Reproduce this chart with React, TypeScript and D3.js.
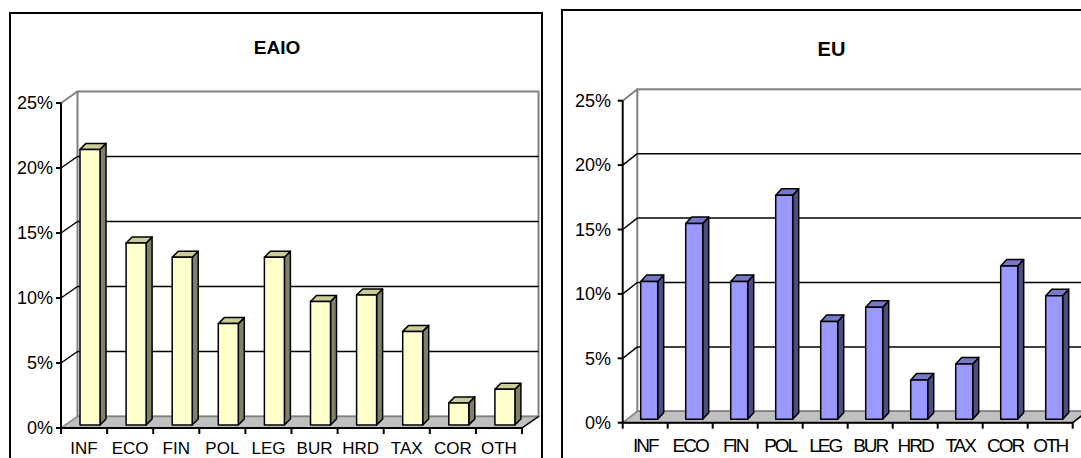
import React from 'react';
import * as d3 from 'd3';

const categories = ['INF', 'ECO', 'FIN', 'POL', 'LEG', 'BUR', 'HRD', 'TAX', 'COR', 'OTH'];
const eaioValues = [21.2, 14.0, 12.9, 7.8, 12.9, 9.5, 10.0, 7.2, 1.7, 2.75];
const euValues = [10.7, 15.2, 10.7, 17.4, 7.6, 8.7, 3.05, 4.3, 11.9, 9.6];
const yTicks = [0, 5, 10, 15, 20, 25];

const FONT = 'Arial, "Liberation Sans", sans-serif';

type Palette = { front: string; top: string; side: string };

type ChartProps = {
  title: string;
  values: number[];
  palette: Palette;
  frame: { x: number; y: number; w: number; h: number };
  titlePos: [number, number, number];
  x0: number;
  x1: number;
  y0: number;
  yTop: number;
  wallDx: number;
  wallDy: number;
  barStart: number;
  barWidth: number;
  barDx: number;
  barDy: number;
  baseDy: number;
  labelY: number;
  labelSize: number;
  labelSpacing: number;
  tickLabelX: number;
};

function Chart3D(p: ChartProps) {
  const x = d3.scaleBand<string>().domain(categories).range([p.x0, p.x1]).paddingInner(0).paddingOuter(0);
  const y = d3.scaleLinear().domain([0, 25]).range([p.y0, p.yTop]);
  const bw = x.bandwidth();
  const dx = p.wallDx, dy = p.wallDy;
  const fmt = (v: number) => v + '%';

  const floor = [
    [p.x0, p.y0], [p.x1, p.y0], [p.x1 + dx, p.y0 + dy], [p.x0 + dx, p.y0 + dy],
  ].map(d => d.join(',')).join(' ');

  return (
    <g>
      <rect x={p.frame.x} y={p.frame.y} width={p.frame.w} height={p.frame.h} fill="#fff" stroke="#000" strokeWidth={2} />
      <text x={p.titlePos[0]} y={p.titlePos[1]} textAnchor="middle" fontFamily={FONT} fontWeight="bold" fontSize={p.titlePos[2]}>{p.title}</text>

      {/* back wall */}
      <rect x={p.x0 + dx} y={p.yTop + dy} width={p.x1 - p.x0} height={p.y0 - p.yTop} fill="#fff" stroke="#808080" strokeWidth={2} />
      {yTicks.slice(1, -1).map(t => (
        <g key={t}>
          <line x1={p.x0 + dx} x2={p.x1 + dx} y1={y(t) + dy} y2={y(t) + dy} stroke="#000" strokeWidth={1.5} />
          <line x1={p.x0} x2={p.x0 + dx} y1={y(t)} y2={y(t) + dy} stroke="#000" strokeWidth={1.5} />
        </g>
      ))}
      <line x1={p.x0} x2={p.x0 + dx} y1={p.yTop} y2={p.yTop + dy} stroke="#808080" strokeWidth={2} />

      {/* floor */}
      <polygon points={floor} fill="#c0c0c0" stroke="#808080" strokeWidth={1.5} />
      <line x1={p.x1} x2={p.x1 + dx} y1={p.y0} y2={p.y0 + dy} stroke="#000" strokeWidth={1.5} />

      {/* axes */}
      <line x1={p.x0} x2={p.x0} y1={p.yTop} y2={p.y0} stroke="#000" strokeWidth={2} />
      <line x1={p.x0} x2={p.x1} y1={p.y0} y2={p.y0} stroke="#000" strokeWidth={2} />
      {yTicks.map(t => (
        <g key={t}>
          <line x1={p.x0 - 5} x2={p.x0} y1={y(t)} y2={y(t)} stroke="#000" strokeWidth={2} />
          <text x={p.tickLabelX} y={y(t)} dy="0.35em" textAnchor="end" fontFamily={FONT} fontSize={18}>{fmt(t)}</text>
        </g>
      ))}
      {categories.map(c => (
        <line key={c} x1={(x(c) as number) + bw} x2={(x(c) as number) + bw} y1={p.y0} y2={p.y0 + 6} stroke="#000" strokeWidth={2} />
      ))}
      <line x1={p.x0} x2={p.x0} y1={p.y0} y2={p.y0 + 6} stroke="#000" strokeWidth={2} />

      {/* bars */}
      {categories.map((c, i) => {
        const left = (x(c) as number) + p.barStart;
        const right = left + p.barWidth;
        const top = y(p.values[i]) + p.baseDy;
        const bottom = p.y0 + p.baseDy;
        const bx = p.barDx, by = p.barDy;
        const topFace = [[left, top], [right, top], [right + bx, top + by], [left + bx, top + by]];
        const sideFace = [[right, top], [right + bx, top + by], [right + bx, bottom + by], [right, bottom]];
        const pts = (a: number[][]) => a.map(d => d.join(',')).join(' ');
        return (
          <g key={c} stroke="#000" strokeWidth={1.5} strokeLinejoin="round">
            <polygon points={pts(sideFace)} fill={p.palette.side} />
            <polygon points={pts(topFace)} fill={p.palette.top} />
            <rect x={left} y={top} width={p.barWidth} height={bottom - top} fill={p.palette.front} />
          </g>
        );
      })}

      {categories.map(c => (
        <text key={c} x={(x(c) as number) + bw / 2} y={p.labelY} textAnchor="middle" fontFamily={FONT} fontSize={p.labelSize} letterSpacing={p.labelSpacing}>{c}</text>
      ))}
    </g>
  );
}

export default function App() {
  return (
    <svg width={1081} height={458} style={{ position: 'absolute', left: 0, top: 0, display: 'block' }}>
      <rect width={1081} height={458} fill="#fff" />
      <Chart3D
        title="EAIO"
        values={eaioValues}
        palette={{ front: '#ffffcc', top: '#cccc99', side: '#808066' }}
        frame={{ x: 10, y: 13, w: 532, h: 470 }}
        titlePos={[277, 54, 19]}
        x0={61} x1={522} y0={428} yTop={103}
        wallDx={16.5} wallDy={-11.5}
        barStart={19} barWidth={20} barDx={6} barDy={-6} baseDy={-3}
        labelY={454} labelSize={17} labelSpacing={0}
        tickLabelX={53}
      />
      <Chart3D
        title="EU"
        values={euValues}
        palette={{ front: '#9999ff', top: '#7777cc', side: '#4d4d80' }}
        frame={{ x: 562, y: 10, w: 560, h: 470 }}
        titlePos={[831.5, 56, 20]}
        x0={622.7} x1={1072.7} y0={422.7} yTop={100.7}
        wallDx={14.6} wallDy={-11.4}
        barStart={18} barWidth={17} barDx={6} barDy={-6.5} baseDy={-3.4}
        labelY={452} labelSize={19} labelSpacing={-2}
        tickLabelX={611}
      />
    </svg>
  );
}
